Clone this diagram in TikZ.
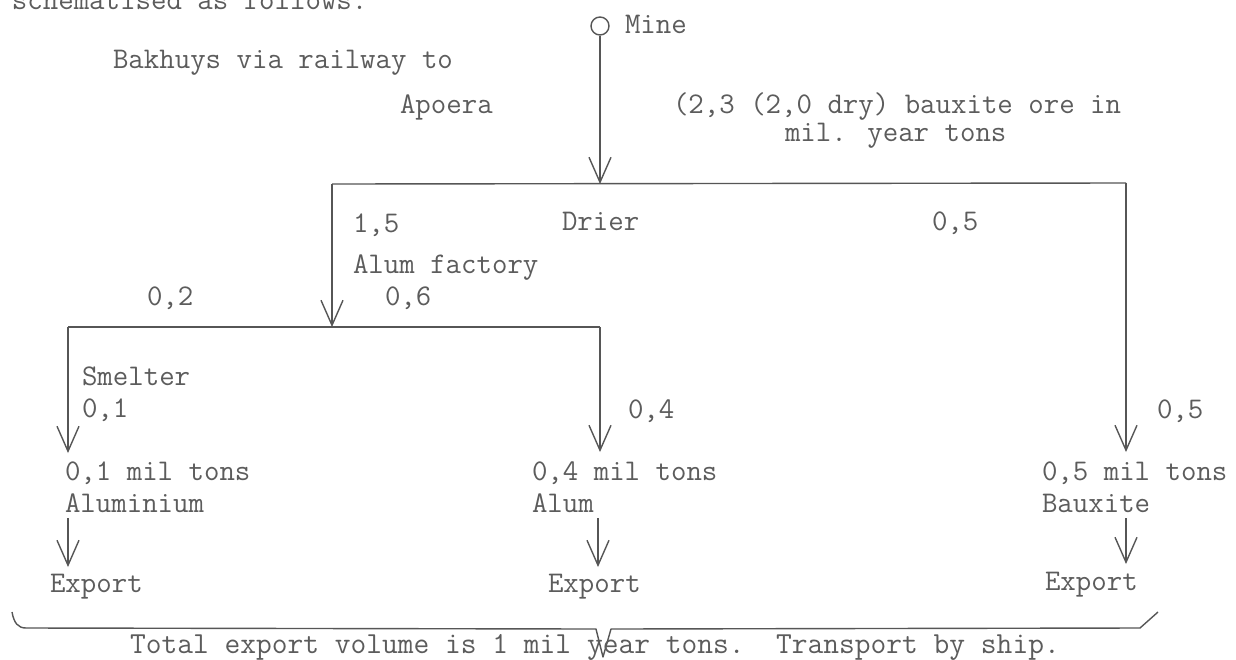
\documentclass[tikz,border=0pt]{standalone}
\usepackage{xcolor}
\usetikzlibrary{arrows.meta}
\definecolor{ink}{RGB}{86,86,86}
\definecolor{typed}{RGB}{92,92,92}

\begin{document}
\begin{tikzpicture}[
    x=1pt, y=-1pt,
    >={Straight Barb[length=25pt, width=22pt]},
    txt/.style={inner sep=0pt, outer sep=0pt, anchor=base west, text=typed, font=\fontsize{30}{32}\selectfont\ttfamily},
    line/.style={draw=ink, line width=1.4pt},
    flow/.style={line, ->},
    source/.style={draw=ink, line width=1.4pt, circle, minimum size=18pt, inner sep=0pt}
]
\useasboundingbox[fill=white] (0,0) rectangle (1236,659);

% Typed lines above the scheme.
\node[txt] (intro) at (12,9) {schematised as follows:};
\node[txt] (rail) at (113,68) {Bakhuys via railway to};
\node[txt] (apoera) at (400,113) {Apoera};

% Mine and ore flow down to the drier.
\node[source] (mine) at (600,26) {};
\node[txt] (minelbl) at (625,33) {Mine};
\node[txt, text depth=0pt] (ore) at (673,113) {(2,3 (2,0 dry) bauxite ore in};
\node[txt, text height=14pt] (oreunit) at (785,141) {mil. year tons};

% Junction points of the branch bars.
\coordinate (drierL) at (332,184);
\coordinate (drierM) at (600,184);
\coordinate (drierR) at (1126,183);
\coordinate (alumJ) at (332,327);
\coordinate (smeltL) at (68,327);
\coordinate (smeltR) at (600,327);

% Arrow tips and export arrow ends.
\coordinate (aluTip) at (68,453);
\coordinate (alumTip) at (600,452);
\coordinate (bauxTip) at (1126,452);
\coordinate (aluOut) at (68,518);
\coordinate (aluExp) at (68,567);
\coordinate (alumOut) at (598,518);
\coordinate (alumExp) at (598,567);
\coordinate (bauxOut) at (1126,518);
\coordinate (bauxExp) at (1126,564);

% Branch labels.
\node[txt] (q15) at (353,232) {1,5};
\node[txt] (drier) at (562,230) {Drier};
\node[txt] (q05a) at (932,230) {0,5};
\node[txt] (factory) at (353,273) {Alum factory};
\node[txt] (q02) at (147,305) {0,2};
\node[txt] (q06) at (385,305) {0,6};
\node[txt] (smelter) at (82,385) {Smelter};
\node[txt] (q01) at (82,417) {0,1};
\node[txt] (q04) at (628,418) {0,4};
\node[txt] (q05b) at (1157,418) {0,5};

% Products.
\node[txt] (aluqty) at (65,480) {0,1 mil tons};
\node[txt] (aluname) at (65,512) {Aluminium};
\node[txt] (alumqty) at (532,480) {0,4 mil tons};
\node[txt] (alumname) at (532,512) {Alum};
\node[txt] (bauxqty) at (1042,480) {0,5 mil tons};
\node[txt] (bauxname) at (1042,512) {Bauxite};

% Exports.
\node[txt] (expA) at (50,592) {Export};
\node[txt] (expB) at (548,592) {Export};
\node[txt] (expC) at (1045,590) {Export};

% Connectors.
\draw[flow] (mine) -- (drierM);
\draw[line] (drierL) -- (drierR);
\draw[flow] (drierL) -- (alumJ);
\draw[line] (smeltL) -- (smeltR);
\draw[flow] (smeltL) -- (aluTip);
\draw[flow] (smeltR) -- (alumTip);
\draw[flow] (drierR) -- (bauxTip);
\draw[flow] (aluOut) -- (aluExp);
\draw[flow] (alumOut) -- (alumExp);
\draw[flow] (bauxOut) -- (bauxExp);

% Brace under the exports.
\draw[line, line join=round] (12,612) .. controls (14,623) and (18,628) .. (26,628)
    -- (596,629) -- (603,657) -- (611,629) -- (1140,628) -- (1158,612);
\node[txt, font=\fontsize{30.6}{32}\selectfont\ttfamily] (total) at (130,653)
    {Total export volume is 1 mil year tons.\ \ Transport by ship.};

\end{tikzpicture}
\end{document}
